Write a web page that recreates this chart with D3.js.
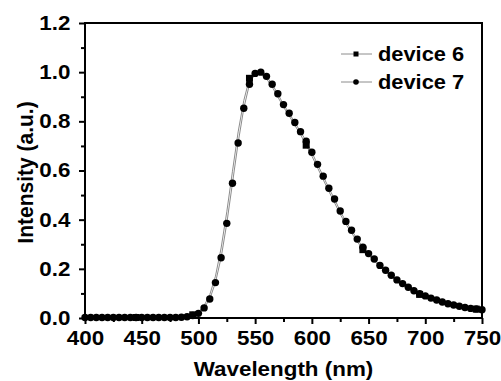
<!DOCTYPE html>
<html>
<head>
<meta charset="utf-8">
<script src="https://cdn.jsdelivr.net/npm/d3@7"></script>
<style>
  body { margin: 0; background: #fff; }
  text { font-family: "Liberation Sans", Arial, sans-serif; font-weight: bold; }
</style>
</head>
<body>
<svg id="chart" width="501" height="381"></svg>
<script>
// wavelength grid (nm), 5 nm steps
const wavelengths = d3.range(400, 751, 5);

// device 6 - slightly blue shifted
const device6 = [
  0.002, 0.002, 0.002, 0.002, 0.002, 0.002, 0.002, 0.002, 0.002, 0.002,
  0.002, 0.002, 0.002, 0.002, 0.002, 0.002, 0.003, 0.004, 0.007, 0.013,
  0.025, 0.050, 0.095, 0.170, 0.285, 0.432, 0.597, 0.757, 0.885, 0.975,
  0.998, 0.995, 0.973, 0.940, 0.899, 0.858, 0.822, 0.784, 0.746, 0.703,
  0.659, 0.611, 0.563, 0.515, 0.469, 0.422, 0.382, 0.346, 0.311, 0.278,
  0.255, 0.233, 0.208, 0.188, 0.168, 0.150, 0.136, 0.121, 0.107, 0.096,
  0.087, 0.079, 0.071, 0.063, 0.057, 0.051, 0.047, 0.042, 0.038, 0.036,
  0.033
];

// device 7
const device7 = [
  0.002, 0.002, 0.002, 0.002, 0.002, 0.002, 0.002, 0.002, 0.002, 0.002,
  0.002, 0.002, 0.002, 0.002, 0.002, 0.002, 0.002, 0.003, 0.005, 0.010,
  0.019, 0.041, 0.077, 0.144, 0.245, 0.385, 0.548, 0.712, 0.853, 0.951,
  0.995, 1.000, 0.983, 0.951, 0.912, 0.868, 0.833, 0.795, 0.758, 0.719,
  0.674, 0.625, 0.577, 0.528, 0.484, 0.435, 0.393, 0.357, 0.321, 0.288,
  0.262, 0.240, 0.214, 0.194, 0.174, 0.155, 0.140, 0.125, 0.111, 0.099,
  0.090, 0.081, 0.073, 0.065, 0.058, 0.053, 0.048, 0.043, 0.039, 0.037,
  0.034
];

const seriesNames = ["device 6", "device 7"];
const xTicks = [400, 450, 500, 550, 600, 650, 700, 750];
const yTicks = [0.0, 0.2, 0.4, 0.6, 0.8, 1.0, 1.2];
const xLabel = "Wavelength (nm)";
const yLabel = "Intensity (a.u.)";

const svg = d3.select("#chart");
const W = +svg.attr("width"), H = +svg.attr("height");
const margin = {top: 23, right: 19, bottom: 63, left: 85};
const width = W - margin.left - margin.right;
const height = H - margin.top - margin.bottom;
const stretch = 1.12; // glyphs in the original are a bit wide

const g = svg.append("g").attr("transform", "translate(" + margin.left + "," + margin.top + ")");

const x = d3.scaleLinear().domain([400, 750]).range([0, width]);
const y = d3.scaleLinear().domain([0, 1.2]).range([height, 0]);

// minor ticks
g.append("g")
  .attr("transform", "translate(0," + height + ")")
  .call(d3.axisBottom(x).tickValues(d3.range(425, 750, 50)).tickSize(4).tickFormat(""))
  .call(s => s.select(".domain").remove())
  .selectAll("line").attr("stroke-width", 2);
g.append("g")
  .call(d3.axisLeft(y).tickValues(d3.range(0.1, 1.2, 0.2)).tickSize(4).tickFormat(""))
  .call(s => s.select(".domain").remove())
  .selectAll("line").attr("stroke-width", 2);

// major ticks
const xAxis = g.append("g")
  .attr("transform", "translate(0," + height + ")")
  .call(d3.axisBottom(x).tickValues(xTicks).tickSize(6).tickPadding(7).tickFormat(d3.format("d")));
const yAxis = g.append("g")
  .call(d3.axisLeft(y).tickValues(yTicks).tickSize(6).tickPadding(7).tickFormat(d3.format(".1f")));

[xAxis, yAxis].forEach(ax => {
  ax.select(".domain").remove();
  ax.selectAll("line").attr("stroke", "#000").attr("stroke-width", 2);
  ax.selectAll("text")
    .attr("fill", "#000")
    .style("font-size", "20px")
    .attr("transform", "scale(" + stretch + ",1)");
});

// frame
g.append("rect")
  .attr("width", width).attr("height", height)
  .attr("fill", "none").attr("stroke", "#000").attr("stroke-width", 2);

// series
const line = d3.line().x(d => x(d[0])).y(d => y(d[1]));
const pts6 = wavelengths.map((w, i) => [w, device6[i]]);
const pts7 = wavelengths.map((w, i) => [w, device7[i]]);

g.append("path").datum(pts6)
  .attr("fill", "none").attr("stroke", "#8c8c8c").attr("stroke-width", 1).attr("d", line);
g.append("path").datum(pts7)
  .attr("fill", "none").attr("stroke", "#8c8c8c").attr("stroke-width", 1).attr("d", line);

// device 6 markers drawn on every 10th point (skip points)
g.selectAll(".sq")
  .data(pts6.filter(d => d[0] % 50 === 45))
  .enter().append("rect")
  .attr("x", d => x(d[0]) - 3.5).attr("y", d => y(d[1]) - 3.5)
  .attr("width", 7).attr("height", 7).attr("fill", "#000");

g.selectAll(".dot")
  .data(pts7)
  .enter().append("circle")
  .attr("cx", d => x(d[0])).attr("cy", d => y(d[1]))
  .attr("r", 3.7).attr("fill", "#000");

// legend
const legend = svg.append("g");
seriesNames.forEach((name, i) => {
  const ly = 54 + i * 28;
  legend.append("line")
    .attr("x1", 341).attr("x2", 372).attr("y1", ly).attr("y2", ly)
    .attr("stroke", "#8c8c8c").attr("stroke-width", 1);
  if (i === 0) {
    legend.append("rect").attr("x", 353.5).attr("y", ly - 2.5)
      .attr("width", 5).attr("height", 5).attr("fill", "#000");
  } else {
    legend.append("circle").attr("cx", 356).attr("cy", ly).attr("r", 2.8).attr("fill", "#000");
  }
  legend.append("text")
    .attr("transform", "translate(378," + ly + ") scale(" + stretch + ",1)")
    .attr("dy", "0.35em")
    .style("font-size", "19.5px")
    .text(name);
});

// axis titles
svg.append("text")
  .attr("transform", "translate(" + (margin.left + width / 2) + ",376) scale(" + stretch + ",1)")
  .attr("text-anchor", "middle")
  .style("font-size", "20px")
  .text(xLabel);

svg.append("text")
  .attr("transform", "translate(33," + (margin.top + height / 2 + 2) + ") rotate(-90) scale(1.05," + stretch + ")")
  .attr("text-anchor", "middle")
  .style("font-size", "20px")
  .text(yLabel);
</script>
</body>
</html>
